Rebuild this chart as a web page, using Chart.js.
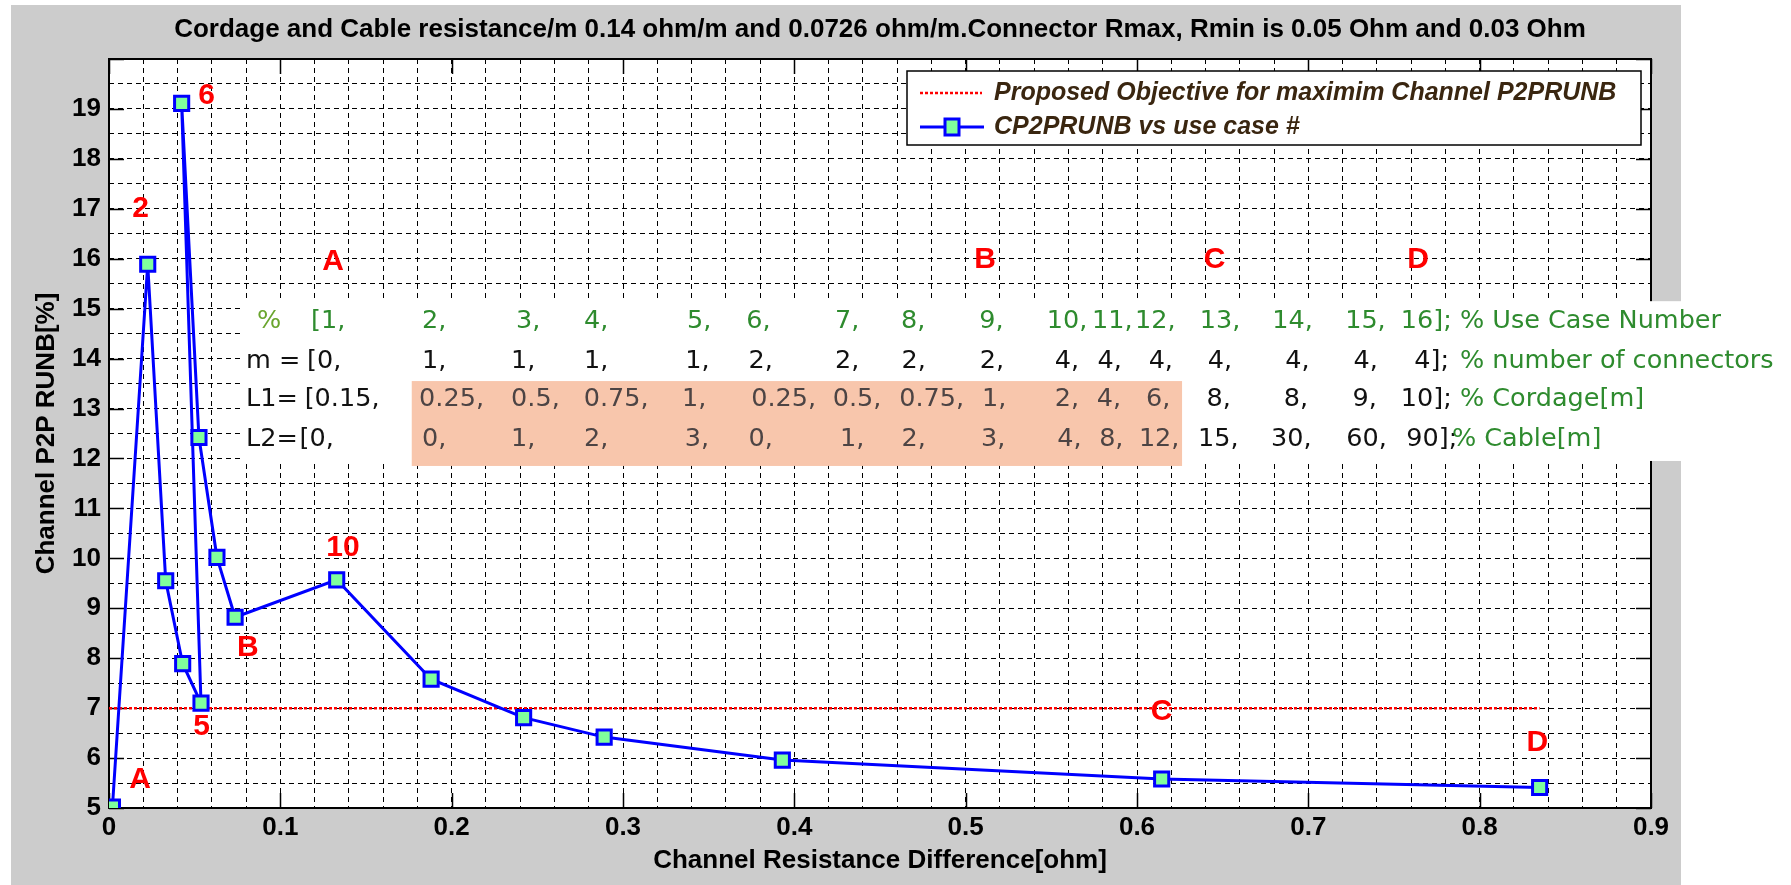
<!DOCTYPE html>
<html>
<head>
<meta charset="utf-8">
<script src="https://cdn.jsdelivr.net/npm/chart.js@4.4.0/dist/chart.umd.min.js"></script>
<style>
  html, body { margin: 0; padding: 0; background: #fff; }
</style>
</head>
<body>
<canvas id="chart" width="1791" height="885"></canvas>
<script>
// ---- data ----
const useCase = [1, 2, 3, 4, 5, 6, 7, 8, 9, 10, 11, 12, 13, 14, 15, 16];
const resDiff = [0.002, 0.0226, 0.0331, 0.043, 0.0537, 0.0424, 0.0525, 0.063, 0.0736, 0.1329, 0.188, 0.242, 0.289, 0.393, 0.6144, 0.835];
const p2pRunb = [5.02, 15.89, 9.55, 7.89, 7.10, 19.11, 12.42, 10.02, 8.82, 9.57, 7.58, 6.81, 6.42, 5.96, 5.58, 5.41];
const objective = 7;
const objectiveX = [0, 0.835];

// use case table shown on the plot
const connectors = [0, 1, 1, 1, 1, 2, 2, 2, 2, 4, 4, 4, 4, 4, 4, 4];
const cordage = [0.15, 0.25, 0.5, 0.75, 1, 0.25, 0.5, 0.75, 1, 2, 4, 6, 8, 8, 9, 10];
const cable = [0, 0, 1, 2, 3, 0, 1, 2, 3, 4, 8, 12, 15, 30, 60, 90];
const rowNames = ['%', 'm =', 'L1=', 'L2='];
const rowComments = ['% Use Case Number', '% number of connectors', '% Cordage[m]', '% Cable[m]'];

// tick labels
const xTickLabels = ['0', '0.1', '0.2', '0.3', '0.4', '0.5', '0.6', '0.7', '0.8', '0.9'];
const yTickLabels = ['5', '6', '7', '8', '9', '10', '11', '12', '13', '14', '15', '16', '17', '18', '19'];

// text
const chartTitle = 'Cordage and Cable resistance/m 0.14 ohm/m and 0.0726 ohm/m.Connector Rmax, Rmin is 0.05 Ohm and 0.03 Ohm';
const xAxisTitle = 'Channel Resistance Difference[ohm]';
const yAxisTitle = 'Channel P2P RUNB[%]';
const legendLabels = ['Proposed Objective for maximim Channel P2PRUNB', 'CP2PRUNB vs use case #'];
const markLabels = ['6', '2', 'A', '5', 'B', '10', 'C', 'D', 'A', 'B', 'C', 'D'];

// ---- layout (axis units) ----
const markPos = [[0.057, 19.27], [0.0185, 17.01], [0.0181, 5.56], [0.0541, 6.63], [0.0811, 8.2], [0.1366, 10.22],
  [0.6144, 6.92], [0.8336, 6.3], [0.1308, 15.94], [0.5114, 15.98], [0.6453, 15.98], [0.7641, 15.98]];
const rowY = [14.75, 13.95, 13.19, 12.39];
const rowNameX = [0.0864, 0.08, 0.08, 0.08];
const rowCommentX = [0.7885, 0.7885, 0.7885, 0.7838];
const colX = [
  [0.1179, 0.1827, 0.2376, 0.2773, 0.3374, 0.3719, 0.4238, 0.4623, 0.5079, 0.5473, 0.5738, 0.5989, 0.6366, 0.6789, 0.7215, 0.754],
  [0.1156, 0.1827, 0.2347, 0.2773, 0.3363, 0.3733, 0.4238, 0.4626, 0.5082, 0.552, 0.577, 0.6068, 0.6413, 0.6865, 0.7264, 0.7618],
  [0.1142, 0.181, 0.2347, 0.2771, 0.3345, 0.3748, 0.4224, 0.4612, 0.5096, 0.552, 0.5765, 0.6052, 0.6406, 0.6857, 0.7258, 0.754],
  [0.1112, 0.1827, 0.2347, 0.2773, 0.3361, 0.3733, 0.4267, 0.4626, 0.509, 0.5534, 0.5779, 0.6011, 0.6356, 0.6782, 0.7221, 0.7572]
];
const tableBox = { x: 0.0765, y1: 15.15, y2: 11.95 };
const shadeBox = { x1: 0.1767, x2: 0.6263, y1: 13.55, y2: 11.85 };

const FONT = '"Liberation Sans", Arial, sans-serif';
const TABLE_FONT = '"DejaVu Sans", sans-serif';

function tokens(vals) {
  return vals.map((v, i) => (i === 0 ? '[' : '') + v + (i === vals.length - 1 ? '];' : ','));
}
const tableRows = [tokens(useCase), tokens(connectors), tokens(cordage), tokens(cable)];

// gray figure background, white axes
const backgroundPlugin = {
  id: 'background',
  beforeDraw(chart) {
    const ctx = chart.ctx, ca = chart.chartArea;
    ctx.save();
    ctx.fillStyle = '#fff';
    ctx.fillRect(0, 0, chart.width, chart.height);
    ctx.fillStyle = '#cccccc';
    ctx.fillRect(11, 5, 1670, 880);
    ctx.fillStyle = '#fff';
    ctx.fillRect(ca.left, ca.top, ca.right - ca.left, ca.bottom - ca.top);
    ctx.restore();
  }
};

// box, inner ticks, table background
const framePlugin = {
  id: 'frame',
  beforeDatasetsDraw(chart) {
    const ctx = chart.ctx, ca = chart.chartArea;
    const xs = chart.scales.x, ys = chart.scales.y;
    ctx.save();
    ctx.strokeStyle = '#000';
    ctx.lineWidth = 1.5;
    ctx.beginPath();
    for (let i = 0; i < xTickLabels.length; i++) {
      const px = Math.round(xs.getPixelForValue(i / 10)) + 0.5;
      ctx.moveTo(px, ca.bottom); ctx.lineTo(px, ca.bottom - 15);
      ctx.moveTo(px, ca.top); ctx.lineTo(px, ca.top + 15);
    }
    for (let v = 5; v <= 20; v++) {
      const py = Math.round(ys.getPixelForValue(v)) + 0.5;
      ctx.moveTo(ca.left, py); ctx.lineTo(ca.left + 15, py);
      ctx.moveTo(ca.right, py); ctx.lineTo(ca.right - 15, py);
    }
    ctx.stroke();
    ctx.lineWidth = 2;
    ctx.strokeRect(ca.left, ca.top, ca.right - ca.left, ca.bottom - ca.top);

    // pasted table background
    const tx = xs.getPixelForValue(tableBox.x);
    const ty1 = ys.getPixelForValue(tableBox.y1), ty2 = ys.getPixelForValue(tableBox.y2);
    ctx.fillStyle = '#fff';
    ctx.fillRect(tx, ty1, chart.width - tx, ty2 - ty1);
    const sx1 = xs.getPixelForValue(shadeBox.x1), sx2 = xs.getPixelForValue(shadeBox.x2);
    const sy1 = ys.getPixelForValue(shadeBox.y1), sy2 = ys.getPixelForValue(shadeBox.y2);
    ctx.fillStyle = '#f8c6ac';
    ctx.fillRect(sx1, sy1, sx2 - sx1, sy2 - sy1);
    ctx.restore();
  }
};

// red labels, table text, legend, title
const textPlugin = {
  id: 'texts',
  afterDatasetsDraw(chart) {
    const ctx = chart.ctx, ca = chart.chartArea;
    const xs = chart.scales.x, ys = chart.scales.y;
    ctx.save();

    // red markers
    ctx.fillStyle = '#ff0000';
    ctx.font = 'bold 30px ' + FONT;
    ctx.textAlign = 'center';
    ctx.textBaseline = 'middle';
    markLabels.forEach((t, i) => {
      ctx.fillText(t, xs.getPixelForValue(markPos[i][0]), ys.getPixelForValue(markPos[i][1]));
    });

    // table
    ctx.font = '25.5px ' + TABLE_FONT;
    ctx.textAlign = 'left';
    const sx1 = xs.getPixelForValue(shadeBox.x1), sx2 = xs.getPixelForValue(shadeBox.x2);
    const sy1 = ys.getPixelForValue(shadeBox.y1);
    tableRows.forEach((row, r) => {
      const py = ys.getPixelForValue(rowY[r]);
      ctx.fillStyle = r === 0 ? '#6aa52e' : '#111';
      ctx.fillText(rowNames[r], xs.getPixelForValue(rowNameX[r]), py);
      row.forEach((t, c) => {
        const px = xs.getPixelForValue(colX[r][c]);
        if (r === 0) ctx.fillStyle = '#2e8b2e';
        else if (py > sy1 && px > sx1 && px < sx2) ctx.fillStyle = '#4d4444';
        else ctx.fillStyle = '#111';
        ctx.fillText(t, px, py);
      });
      ctx.fillStyle = '#2e8b2e';
      ctx.fillText(rowComments[r], xs.getPixelForValue(rowCommentX[r]), py);
    });

    // legend
    const lw = 734, lh = 74;
    const lx = ca.right - 744, ly = ca.top + 12;
    ctx.fillStyle = '#fff';
    ctx.fillRect(lx, ly, lw, lh);
    ctx.strokeStyle = '#000';
    ctx.lineWidth = 1.5;
    ctx.strokeRect(lx, ly, lw, lh);
    const r1 = ly + 22, r2 = ly + 56;
    ctx.strokeStyle = '#ff0000';
    ctx.lineWidth = 2.5;
    ctx.setLineDash([3, 2]);
    ctx.beginPath(); ctx.moveTo(lx + 13, r1); ctx.lineTo(lx + 75, r1); ctx.stroke();
    ctx.setLineDash([]);
    ctx.strokeStyle = '#0000ff';
    ctx.lineWidth = 3;
    ctx.beginPath(); ctx.moveTo(lx + 13, r2); ctx.lineTo(lx + 77, r2); ctx.stroke();
    ctx.fillStyle = '#80ff9c';
    ctx.fillRect(lx + 38, r2 - 8, 14, 16);
    ctx.strokeRect(lx + 38, r2 - 8, 14, 16);
    ctx.fillStyle = '#3a2610';
    ctx.font = 'italic bold 25px ' + FONT;
    ctx.textAlign = 'left';
    ctx.fillText(legendLabels[0], lx + 87, r1);
    ctx.fillText(legendLabels[1], lx + 87, r2);

    // title
    ctx.fillStyle = '#000';
    ctx.font = 'bold 26px ' + FONT;
    ctx.textAlign = 'center';
    ctx.fillText(chartTitle, (ca.left + ca.right) / 2, 30);
    ctx.restore();
  }
};

const tickFont = { family: FONT, size: 26, weight: 'bold' };

new Chart(document.getElementById('chart'), {
  type: 'scatter',
  data: {
    datasets: [
      {
        label: legendLabels[1],
        data: resDiff.map((x, i) => ({ x: x, y: p2pRunb[i] })),
        showLine: true,
        borderColor: '#0000ff',
        borderWidth: 3,
        pointStyle: 'rect',
        pointRadius: 10,
        pointBorderWidth: 3,
        pointBackgroundColor: '#80ff9c',
        pointBorderColor: '#0000ff',
        tension: 0
      },
      {
        label: legendLabels[0],
        data: objectiveX.map(x => ({ x: x, y: objective })),
        showLine: true,
        borderColor: '#ff0000',
        borderWidth: 2.5,
        borderDash: [3, 2],
        pointRadius: 0
      }
    ]
  },
  options: {
    responsive: false,
    animation: false,
    devicePixelRatio: 1,
    layout: { padding: { left: 0, right: 140, top: 59, bottom: 0 } },
    plugins: { legend: { display: false }, tooltip: { enabled: false }, title: { display: false } },
    scales: {
      x: {
        type: 'linear', min: 0, max: 0.9,
        ticks: {
          stepSize: 0.02, autoSkip: false, maxRotation: 0, minRotation: 0, padding: 4,
          color: '#000', font: tickFont,
          callback: v => {
            const i = Math.round(v * 10);
            return Math.abs(v - i / 10) < 1e-6 ? xTickLabels[i] : '';
          }
        },
        grid: { color: '#000', lineWidth: 1, drawTicks: false, borderDash: [5, 4] },
        border: { display: false, dash: [5, 4] },
        title: { display: true, text: xAxisTitle, color: '#000', font: tickFont, padding: { top: 0, bottom: 9 } },
        afterFit: s => { s.height = 77; }
      },
      y: {
        min: 5, max: 20,
        ticks: {
          stepSize: 0.5, autoSkip: false, padding: 8,
          color: '#000', font: tickFont,
          callback: v => (Number.isInteger(v) && v < 20) ? yTickLabels[v - 5] : ''
        },
        grid: { color: '#000', lineWidth: 1, drawTicks: false, borderDash: [5, 4] },
        border: { display: false, dash: [5, 4] },
        title: { display: true, text: yAxisTitle, color: '#000', font: tickFont, padding: { top: 31, bottom: 0 } },
        afterFit: s => { s.width = 109; }
      }
    }
  },
  plugins: [backgroundPlugin, framePlugin, textPlugin]
});
</script>
</body>
</html>
